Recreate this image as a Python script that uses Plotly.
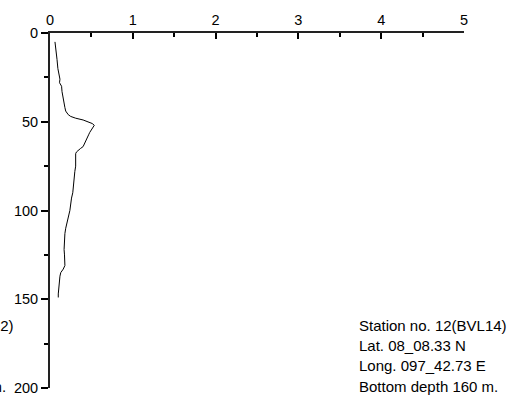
import plotly.graph_objects as go

# chlorophyll-like profile
depth = [5, 10, 15, 20, 24, 26, 28, 30, 33, 36, 38, 40, 42, 44, 46, 47, 48, 49, 50, 51, 52,
         53, 54, 55, 56, 57, 58, 59, 60, 61, 62, 63, 64, 65, 66, 67, 68, 70, 72, 75, 78,
         81, 84, 87, 90, 93, 95, 98, 100, 102, 104, 107, 110, 113, 116, 119, 122, 125,
         128, 131, 133, 134, 135, 137, 139, 141, 143, 145, 147, 149]
value = [0.06, 0.075, 0.085, 0.095, 0.11, 0.12, 0.115, 0.14, 0.145, 0.155, 0.16, 0.165,
         0.18, 0.19, 0.22, 0.25, 0.31, 0.40, 0.46, 0.51, 0.535, 0.52, 0.50, 0.49, 0.48,
         0.47, 0.46, 0.455, 0.44, 0.43, 0.42, 0.41, 0.40, 0.37, 0.34, 0.32, 0.31, 0.31,
         0.305, 0.31, 0.30, 0.295, 0.29, 0.28, 0.275, 0.26, 0.255, 0.25, 0.24, 0.23, 0.22,
         0.20, 0.19, 0.18, 0.175, 0.17, 0.17, 0.175, 0.18, 0.18, 0.16, 0.14, 0.13, 0.12,
         0.115, 0.11, 0.105, 0.10, 0.10, 0.10]

x_ticks = [0, 1, 2, 3, 4, 5]
y_ticks = [0, 50, 100, 150, 200]

info = ["Station no. 12(BVL14)", "Lat. 08_08.33 N", "Long. 097_42.73 E", "Bottom depth 160 m."]
info_y = [0.175, 0.119, 0.062, 0.004]
# neighbouring panel's text, only the tails of two lines show at the left edge
info_left = ["Station no. 11(BVL12)", "Bottom depth 150 m."]
info_left_y = [0.175, 0.004]

FONT = "Liberation Sans, Arial"

fig = go.Figure()
fig.add_trace(go.Scatter(x=value, y=depth, mode="lines",
                         line=dict(color="black", width=1), showlegend=False,
                         hoverinfo="skip"))

for txt, yy in zip(info, info_y):
    fig.add_annotation(x=0.742, y=yy, xref="paper", yref="paper", text=txt, showarrow=False,
                       xanchor="left", yanchor="middle",
                       font=dict(family=FONT, size=15, color="black"))
for txt, yy in zip(info_left, info_left_y):
    fig.add_annotation(x=-0.447, y=yy, xref="paper", yref="paper", text=txt, showarrow=False,
                       xanchor="left", yanchor="middle",
                       font=dict(family=FONT, size=15, color="black"))

fig.update_layout(
    width=516, height=399,
    margin=dict(l=50, r=52, t=33, b=11),
    paper_bgcolor="white", plot_bgcolor="white",
    font=dict(family=FONT, size=14.5, color="black"),
    xaxis=dict(side="top", range=[0, 5], tickvals=x_ticks, showgrid=False, zeroline=False,
               automargin=False,
               showline=True, linecolor="#222", linewidth=2,
               ticks="inside", ticklen=6, tickwidth=1.5, tickcolor="black",
               minor=dict(tickvals=[0.5, 1.5, 2.5, 3.5, 4.5], ticks="inside", ticklen=4,
                          tickwidth=1.5, tickcolor="black")),
    yaxis=dict(range=[200, 0], tickvals=y_ticks, showgrid=False, zeroline=False,
               automargin=False,
               showline=True, linecolor="#222", linewidth=2,
               ticks="outside", ticklen=7, tickwidth=1.5, tickcolor="black",
               minor=dict(tickvals=[25, 75, 125, 175], ticks="outside", ticklen=4,
                          tickwidth=1.5, tickcolor="black")),
)

# drop the page's default body margin so the figure sits at the window corner
fig.write_html("out.html", config={"displayModeBar": False},
               post_script="document.body.style.margin='0';")
